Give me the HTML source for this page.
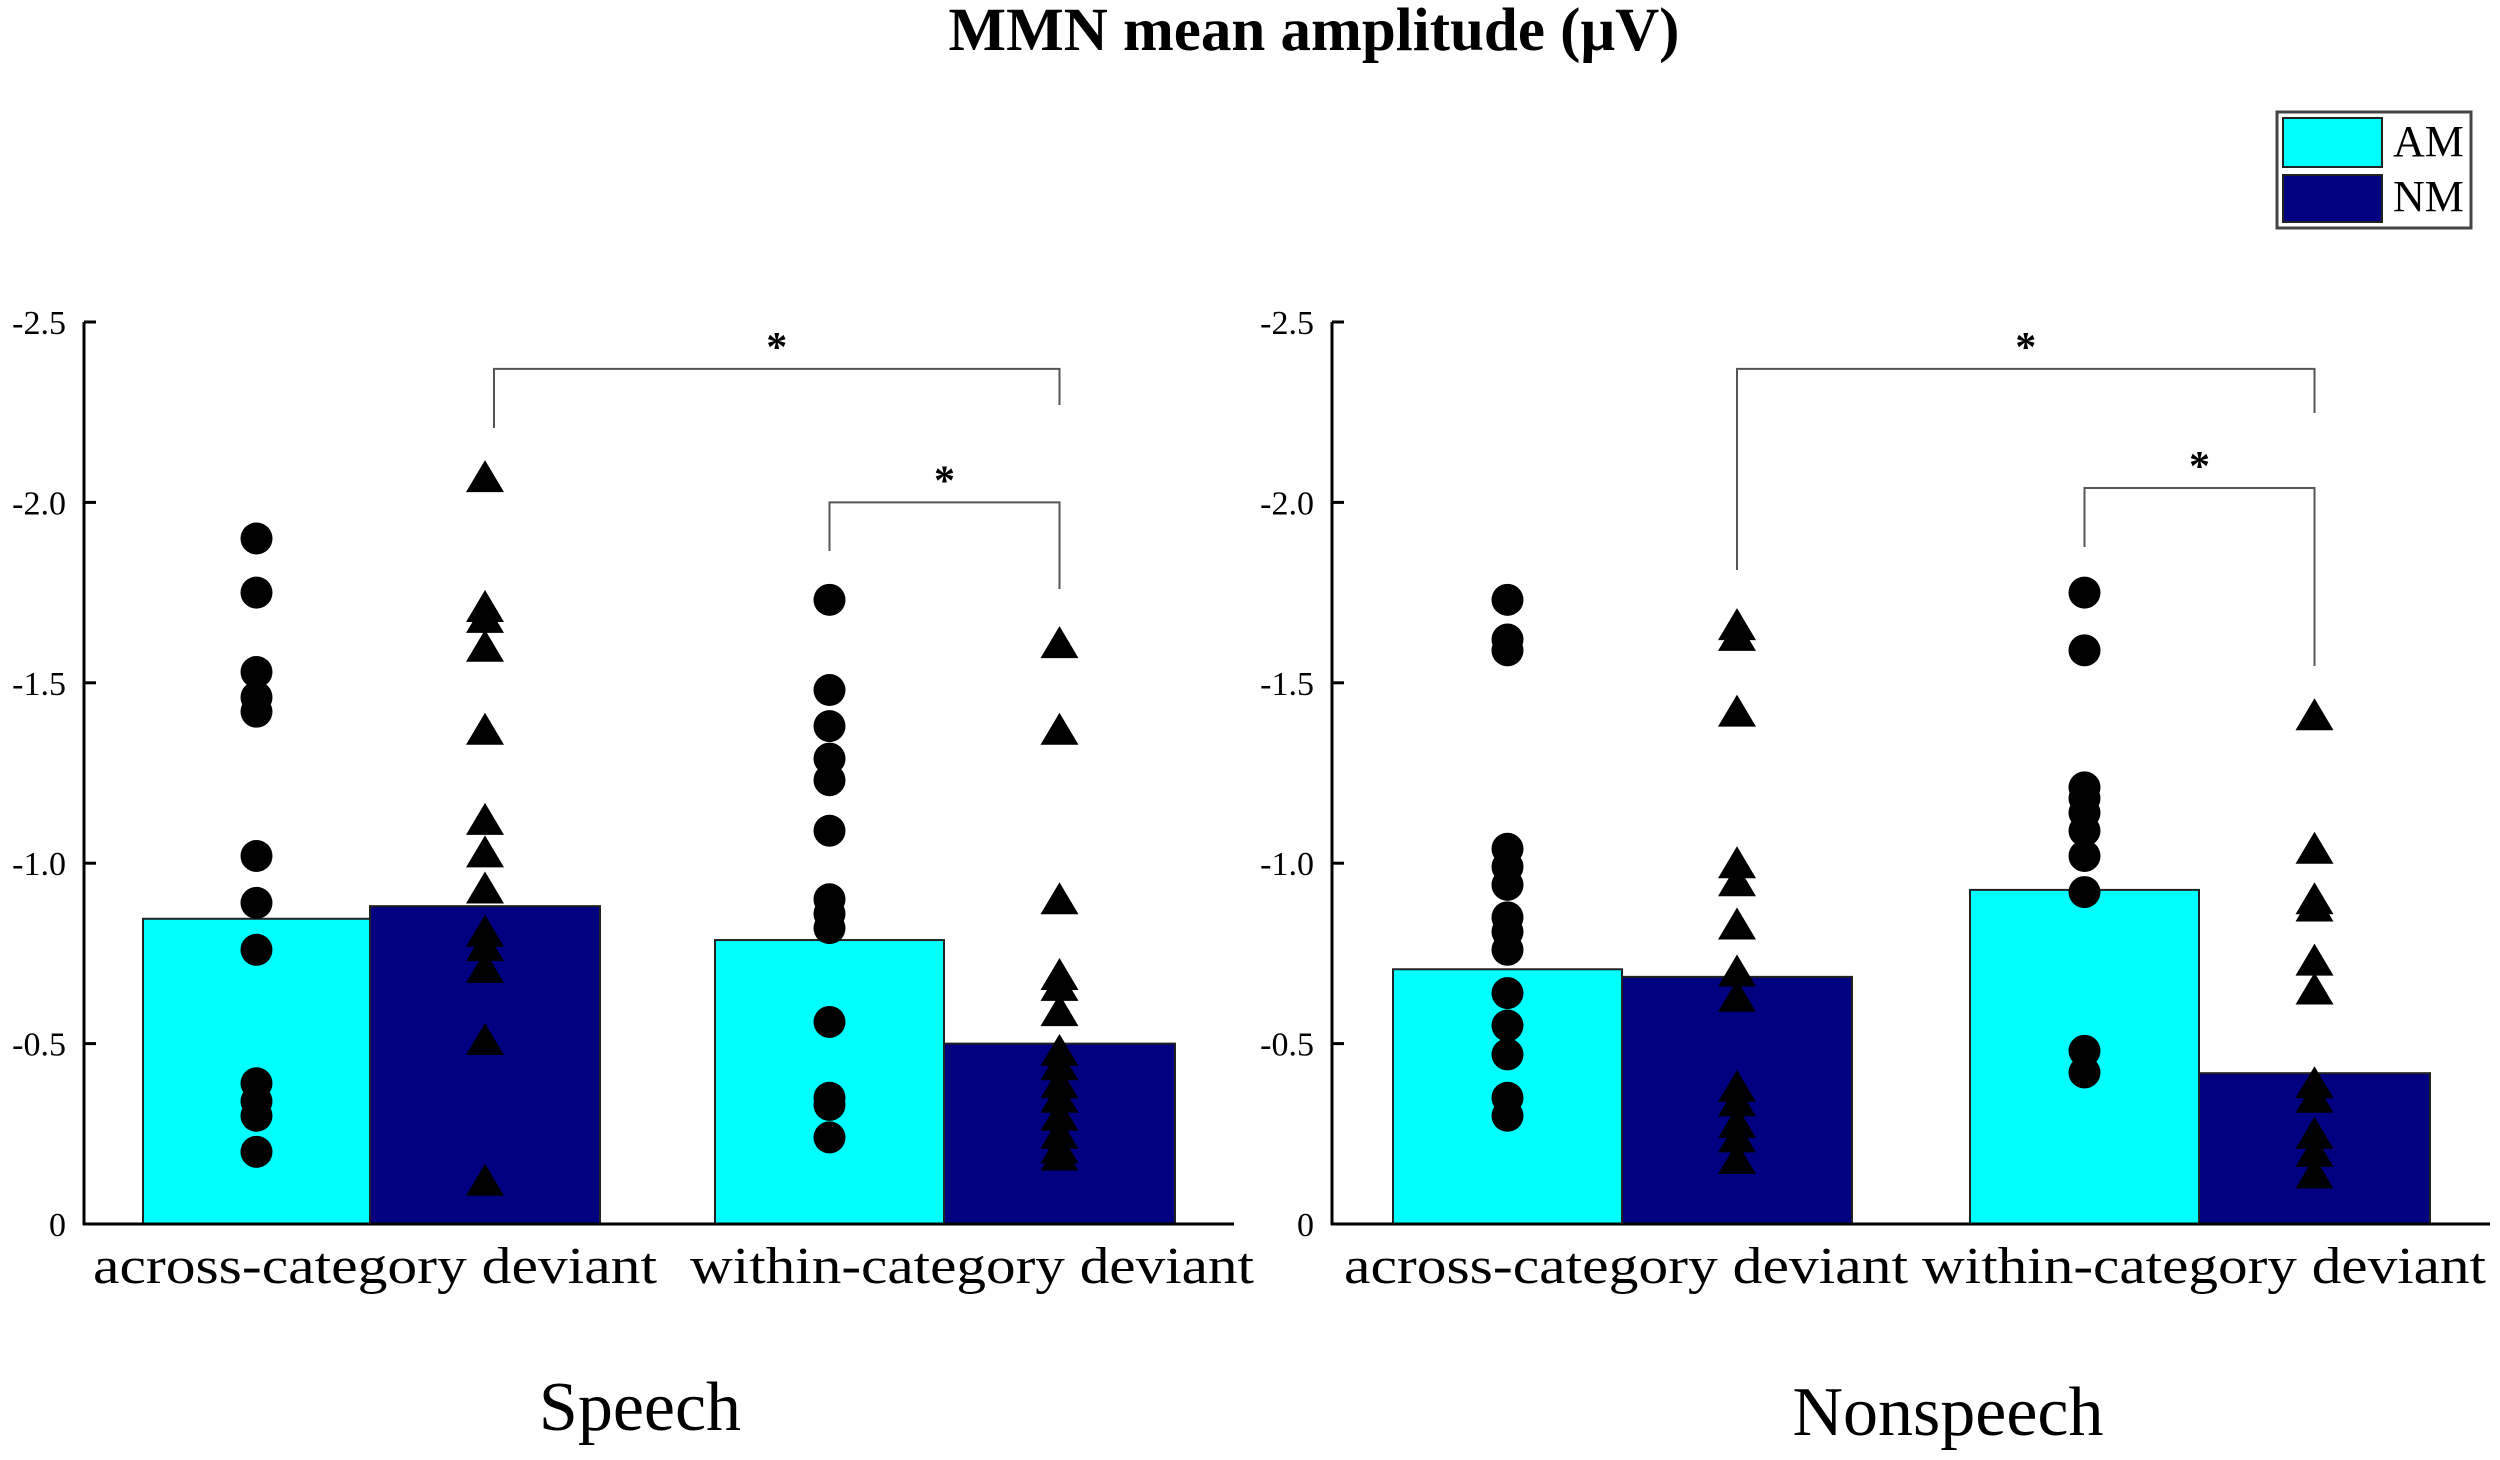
<!DOCTYPE html>
<html><head><meta charset="utf-8"><style>
body{margin:0;background:#fff}
svg{display:block;font-family:"Liberation Serif",serif}
</style></head><body>
<svg id="chart" width="2500" height="1460" viewBox="0 0 2500 1460">
<text x="1314" y="50" text-anchor="middle" font-size="61" font-weight="bold">MMN mean amplitude (μV)</text>
<g>
<rect x="2277" y="112" width="194" height="116" fill="#fff" stroke="#444" stroke-width="3"/>
<rect x="2283" y="118" width="99" height="49" fill="#00ffff" stroke="#222" stroke-width="2"/>
<rect x="2283" y="175" width="99" height="47" fill="#000080" stroke="#222" stroke-width="2"/>
<text x="2393" y="156" font-size="44">AM</text>
<text x="2393" y="211" font-size="44">NM</text>
</g>
<g id="plots"></g>
</svg>
<script>
const ticks = [0, -0.5, -1.0, -1.5, -2.0, -2.5];
const tickLabels = ["0", "-0.5", "-1.0", "-1.5", "-2.0", "-2.5"];
const categories = ["across-category deviant", "within-category deviant"];
const panelTitles = ["Speech", "Nonspeech"];
// bar means (absolute negative amplitude, plotted upward)
const speechAM = [0.846, 0.787];
const speechNM = [0.881, 0.50];
const nonspeechAM = [0.706, 0.926];
const nonspeechNM = [0.685, 0.418];
// individual points
const speechAcrossAM = [1.90,1.75,1.53,1.46,1.42,1.02,0.89,0.76,0.39,0.34,0.30,0.20];
const speechAcrossNM = [2.07,1.71,1.68,1.60,1.37,1.12,1.03,0.93,0.81,0.77,0.71,0.51,0.12];
const speechWithinAM = [1.73,1.48,1.38,1.29,1.23,1.09,0.90,0.86,0.82,0.56,0.35,0.33,0.24];
const speechWithinNM = [1.61,1.37,0.90,0.69,0.66,0.59,0.48,0.44,0.39,0.35,0.30,0.25,0.21,0.19];
const nonAcrossAM = [1.73,1.62,1.59,1.04,0.99,0.94,0.85,0.81,0.76,0.64,0.55,0.47,0.35,0.30];
const nonAcrossNM = [1.66,1.63,1.42,1.00,0.95,0.83,0.70,0.63,0.38,0.34,0.28,0.24,0.18];
const nonWithinAM = [1.75,1.59,1.21,1.18,1.14,1.09,1.02,0.92,0.48,0.42];
const nonWithinNM = [1.41,1.04,0.90,0.88,0.73,0.65,0.39,0.35,0.25,0.20,0.14];
// significance brackets [from bar index, to bar index, level]
const speechSig = [[1,3,2.37],[2,3,2.00]];
const nonspeechSig = [[1,3,2.37],[2,3,2.04]];

const NS = "http://www.w3.org/2000/svg";
const root = document.getElementById("plots");
function mk(tag, attrs, parent){const e=document.createElementNS(NS,tag);for(const k in attrs)e.setAttribute(k,attrs[k]);(parent||root).appendChild(e);return e;}

const y0 = 1224, pxPerUnit = 360.8;
function yScale(v){return y0 - v*pxPerUnit;}

const panels = [
 {axisX:84, axisEnd:1234, bars:[[143,370],[370,600],[715,944],[944,1175]], am:speechAM, nm:speechNM,
  pts:[speechAcrossAM,speechAcrossNM,speechWithinAM,speechWithinNM], sig:speechSig, leftShift:[9,0],
  catX:[375,972], catW:564, titleX:640, titleY:1430, ends:[[428,405],[551,589]]},
 {axisX:1332, axisEnd:2490, bars:[[1393,1622],[1622,1852],[1970,2199],[2199,2430]], am:nonspeechAM, nm:nonspeechNM,
  pts:[nonAcrossAM,nonAcrossNM,nonWithinAM,nonWithinNM], sig:nonspeechSig, leftShift:[0,0],
  catX:[1626,2204], catW:564, titleX:1948, titleY:1435, ends:[[570,413],[547,666]]}
];

panels.forEach((p, pi) => {
  const g = mk("g", {});
  
  
  const vals = [p.am[0], p.nm[0], p.am[1], p.nm[1]];
  vals.forEach((v, i) => {
    const b = p.bars[i];
    const r = mk("rect", {x:b[0], y:yScale(v), width:b[1]-b[0], height:y0-yScale(v), fill: i%2===0?"#00ffff":"#000080", stroke:"#222", "stroke-width":2}, g);
    
    
  });
  const ya = mk("line", {x1:p.axisX, y1:yScale(2.5), x2:p.axisX, y2:y0+1, stroke:"#000", "stroke-width":3}, g);
  
  
  const xa = mk("line", {x1:p.axisX-1, y1:y0, x2:p.axisEnd, y2:y0, stroke:"#000", "stroke-width":3}, g);
  
  
  ticks.forEach((t, i) => {
    const y = yScale(-t);
    mk("line", {x1:p.axisX, y1:y, x2:p.axisX+12, y2:y, stroke:"#000", "stroke-width":3}, g);
    const tl = mk("text", {x:p.axisX-18, y:y+12, "text-anchor":"end", "font-size":34}, g);
    tl.textContent = tickLabels[i];
    
    
  });
  p.pts.forEach((arr, i) => {
    const cx = (p.bars[i][0]+p.bars[i][1])/2;
    arr.forEach(v => {
      const y = yScale(v);
      let m;
      if (i%2===0) m = mk("circle", {cx:cx, cy:y, r:16, fill:"#000"}, g);
      else m = mk("polygon", {points:`${cx},${y-17} ${cx-19},${y+15} ${cx+19},${y+15}`, fill:"#000"}, g);
      
      
    });
  });
  p.sig.forEach((s, si) => {
    const xa1 = (p.bars[s[0]][0]+p.bars[s[0]][1])/2 + p.leftShift[si];
    const xb1 = (p.bars[s[1]][0]+p.bars[s[1]][1])/2;
    const yt = yScale(s[2]);
    const br = mk("path", {d:`M${xa1},${p.ends[si][0]} V${yt} H${xb1} V${p.ends[si][1]}`, fill:"none", stroke:"#555", "stroke-width":2}, g);
    
    
    const st = mk("text", {x:(xa1+xb1)/2, y:yt-8, "text-anchor":"middle", "font-size":42, "font-weight":"bold"}, g);
    st.textContent = "*";
    
    
  });
  categories.forEach((c, ci) => {
    const t = mk("text", {x:p.catX[ci], y:1283, "text-anchor":"middle", "font-size":52, textLength:p.catW, lengthAdjust:"spacingAndGlyphs"}, g);
    t.textContent = c;
    
    
  });
  const pt = mk("text", {x:p.titleX, y:p.titleY, "text-anchor":"middle", "font-size":70}, g);
  pt.textContent = panelTitles[pi];
  
  
});
</script>
</body></html>
